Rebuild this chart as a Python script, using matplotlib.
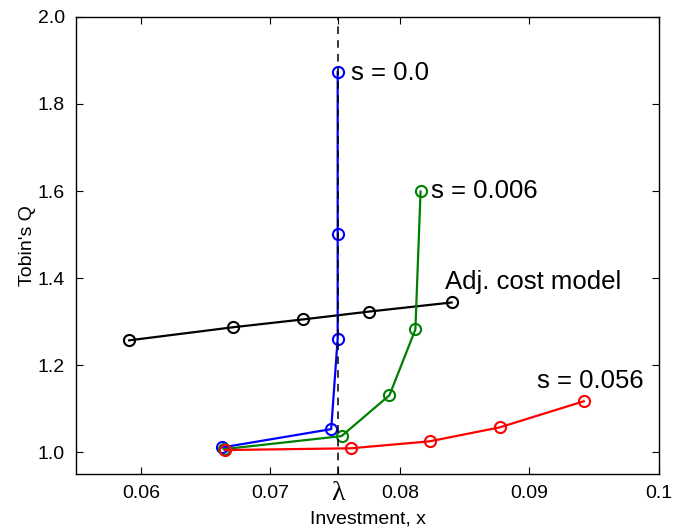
import numpy as np
import matplotlib.pyplot as plt

plt.rcParams['font.family'] = ['Liberation Sans', 'DejaVu Sans']

lam = 0.0752

x_s0 = [0.0663, 0.0747, 0.0752, 0.0752, 0.0752]
q_s0 = [1.011, 1.053, 1.261, 1.502, 1.874]

x_s006 = [0.0664, 0.0755, 0.0792, 0.0812, 0.0816]
q_s006 = [1.007, 1.037, 1.131, 1.282, 1.599]

x_s056 = [0.0665, 0.0762, 0.0823, 0.0877, 0.0942]
q_s056 = [1.005, 1.009, 1.025, 1.057, 1.117]

x_adj = [0.0591, 0.0671, 0.0725, 0.0776, 0.0840]
q_adj = [1.257, 1.287, 1.305, 1.323, 1.344]

fig = plt.figure(figsize=(6.73, 5.29), dpi=100)
ax = fig.add_axes([0.113, 0.104, 0.866, 0.864])

ax.plot(x_adj, q_adj, 'o-', color='k', mfc='none', ms=8, mew=1.5, lw=1.6)
ax.plot(x_s0, q_s0, 'o-', color='#0000ff', mfc='none', ms=8, mew=1.5, lw=1.6)
ax.plot(x_s006, q_s006, 'o-', color='#008000', mfc='none', ms=8, mew=1.5, lw=1.6)
ax.plot(x_s056, q_s056, 'o-', color='#ff0000', mfc='none', ms=8, mew=1.5, lw=1.6)

# dashed line at lambda sits on top of the s=0 curve
ax.axvline(lam, color='k', ls=(0, (5, 4)), lw=1.1, zorder=3)

ax.text(0.0762, 1.872, 's = 0.0', fontsize=18.5, va='center')
ax.text(0.0824, 1.599, 's = 0.006', fontsize=18.5, va='center')
ax.text(0.0835, 1.39, 'Adj. cost model', fontsize=18.5, va='center')
ax.text(0.0906, 1.163, 's = 0.056', fontsize=18.5, va='center')

ax.set_xlim(0.055, 0.1)
ax.set_ylim(0.95, 2.0)
xt = [0.06, 0.07, lam, 0.08, 0.09, 0.1]
ax.set_xticks(xt)
ax.set_xticklabels(['0.06', '0.07', '', '0.08', '0.09', '0.1'])
ax.text(lam, -0.015, 'λ', transform=ax.get_xaxis_transform(),
        ha='center', va='top', fontsize=20, family='Liberation Serif')
ax.set_yticks([1.0, 1.2, 1.4, 1.6, 1.8, 2.0])
ax.set_yticklabels(['1.0', '1.2', '1.4', '1.6', '1.8', '2.0'])
ax.tick_params(direction='in', top=True, right=True, labelsize=14, length=5, pad=8)
ax.set_xlabel('Investment, x', fontsize=14, labelpad=6)
ax.set_ylabel("Tobin's Q", fontsize=14, labelpad=1)
for sp in ax.spines.values():
    sp.set_linewidth(1.0)

fig.savefig('out.png', dpi=100)
